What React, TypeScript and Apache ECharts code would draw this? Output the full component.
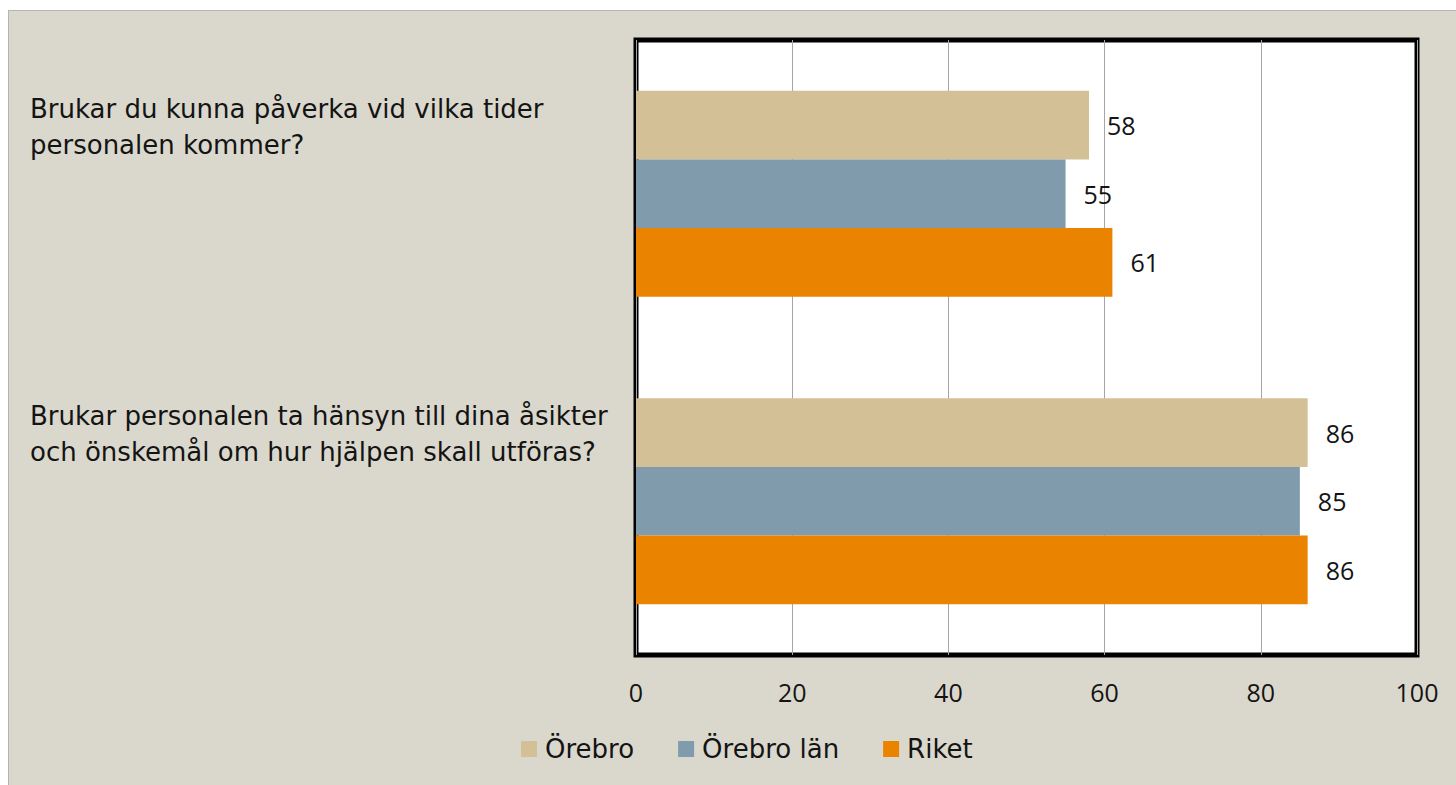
import React, { useEffect, useRef } from "react";
import * as echarts from "echarts";

const categories = [
  "Brukar du kunna påverka vid vilka tider\npersonalen kommer?",
  "Brukar personalen ta hänsyn till dina åsikter\noch önskemål om hur hjälpen skall utföras?",
];
const seriesNames = ["Örebro", "Örebro län", "Riket"];
const orebro = [58, 86];
const orebroLan = [55, 85];
const riket = [61, 86];
const seriesColors = ["#D3C096", "#7F9BAC", "#EA8300"];
const valueTicks = { min: 0, max: 100, interval: 20 };

const FONT = "'Open Sans', 'DejaVu Sans', sans-serif";
const WIDE = "'DejaVu Sans', sans-serif";
const TEXT = "#141414";

export default function App() {
  const ref = useRef<HTMLDivElement>(null);
  useEffect(() => {
    if (!ref.current) return;
    const chart = echarts.init(ref.current, undefined, { renderer: "svg" });
    const values = [orebro, orebroLan, riket];
    chart.setOption({
      animation: false,
      backgroundColor: "transparent",
      textStyle: { fontFamily: FONT },
      grid: {
        left: 627,
        right: 39,
        top: 29,
        bottom: 130,
        show: true,
        backgroundColor: "#ffffff",
        borderColor: "#000000",
        borderWidth: 5,
      },
      legend: {
        data: seriesNames,
        left: 507,
        top: 720,
        itemWidth: 16,
        itemHeight: 16,
        itemGap: 44,
        icon: "rect",
        textStyle: { fontFamily: WIDE, fontSize: 26, color: TEXT, padding: [0, 0, 0, 3] },
      },
      xAxis: {
        type: "value",
        min: valueTicks.min,
        max: valueTicks.max,
        interval: valueTicks.interval,
        axisLine: { show: false },
        axisTick: { show: false },
        splitLine: { show: true, lineStyle: { color: "#A6A6A6", width: 1 } },
        axisLabel: { fontFamily: FONT, fontSize: 25, color: TEXT, margin: 24 },
      },
      yAxis: {
        type: "category",
        inverse: true,
        data: categories,
        axisLine: { show: false },
        axisTick: { show: false },
        splitLine: { show: false },
        axisLabel: {
          align: "left",
          margin: 606,
          fontFamily: WIDE,
          fontSize: 26,
          lineHeight: 36,
          color: TEXT,
          verticalAlign: "middle",
          formatter: (v: string) => `${v}\n{sp| }`,
          rich: { sp: { height: 134, lineHeight: 134, fontSize: 1 } },
        },
      },
      series: seriesNames.map((name, i) => ({
        name,
        type: "bar",
        data: values[i],
        barGap: "0%",
        barCategoryGap: "33%",
        itemStyle: { color: seriesColors[i] },
        label: {
          show: true,
          position: "right",
          distance: 18,
          fontFamily: FONT,
          fontSize: 25,
          color: TEXT,
        },
      })),
    });
    return () => chart.dispose();
  }, []);
  return (
    <div
      style={{
        position: "absolute",
        left: 8,
        top: 10,
        width: 1448,
        height: 775,
        background: "#DAD8CC",
        borderLeft: "1px solid #B4B4B4",
        borderTop: "1px solid #B4B4B4",
        boxSizing: "border-box",
      }}
    >
      <div ref={ref} style={{ width: 1447, height: 774 }} />
    </div>
  );
}
